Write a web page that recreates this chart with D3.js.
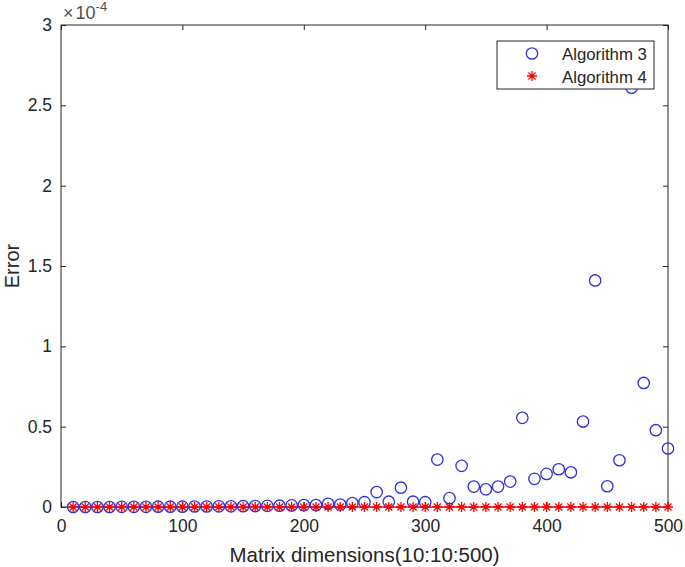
<!DOCTYPE html>
<html>
<head>
<meta charset="utf-8">
<script src="https://cdn.jsdelivr.net/npm/d3@7"></script>
<style>
  body { margin: 0; background: #fff; }
  text { font-family: "Liberation Sans", Arial, sans-serif; }
</style>
</head>
<body>
<div id="chart"></div>
<script>
// matrix sizes 10:10:500
const dims = [10, 20, 30, 40, 50, 60, 70, 80, 90, 100, 110, 120, 130, 140, 150, 160, 170, 180, 190, 200,
  210, 220, 230, 240, 250, 260, 270, 280, 290, 300, 310, 320, 330, 340, 350, 360, 370, 380, 390, 400,
  410, 420, 430, 440, 450, 460, 470, 480, 490, 500];
// error, in units of 1e-5
const alg3 = [0, 0, 0, 0, 0.01, 0.01, 0.01, 0.02, 0.02, 0.02, 0.03, 0.03, 0.04, 0.04, 0.05, 0.06, 0.07, 0.08, 0.1, 0.12,
  0.12, 0.2, 0.15, 0.25, 0.3, 0.93, 0.33, 1.2, 0.33, 0.3, 2.95, 0.55, 2.56, 1.27, 1.1, 1.27, 1.58, 5.55, 1.75, 2.06,
  2.35, 2.16, 5.32, 14.1, 1.29, 2.91, 26.1, 7.72, 4.78, 3.64];
const alg4 = dims.map(() => 0);
const xTicks = [0, 100, 200, 300, 400, 500];
const yTicks = [0, 0.5, 1, 1.5, 2, 2.5, 3];
const seriesNames = ['Algorithm 3', 'Algorithm 4'];

const W = 685, H = 567;
const m = { left: 61, right: 17, top: 25, bottom: 60 };
const w = W - m.left - m.right, h = H - m.top - m.bottom;
const axisColor = '#262626';
const blue = '#3030d6', red = '#ff0000';

const svg = d3.select('#chart').append('svg').attr('width', W).attr('height', H)
  .append('g').attr('transform', `translate(${m.left},${m.top})`);

const x = d3.scaleLinear().domain([0, 500]).range([0, w]);
const y = d3.scaleLinear().domain([0, 3]).range([h, 0]);   // axis in 1e-4
const yv = v => y(v / 10);                                  // data in 1e-5

// box
svg.append('rect').attr('width', w).attr('height', h)
  .attr('fill', 'none').attr('stroke', axisColor).attr('stroke-width', 1);

// ticks (inward, mirrored)
svg.append('g').attr('transform', `translate(0,${h})`)
  .call(d3.axisBottom(x).tickValues(xTicks).tickSizeInner(-5).tickSizeOuter(0).tickPadding(13))
  .call(s => s.select('.domain').remove())
  .call(s => s.selectAll('.tick line').attr('stroke', axisColor))
  .call(s => s.selectAll('.tick text').attr('fill', axisColor).style('font-size', '17.5px'));
svg.append('g')
  .call(d3.axisTop(x).tickValues(xTicks).tickSizeInner(-5).tickSizeOuter(0).tickFormat(''))
  .call(s => s.select('.domain').remove())
  .call(s => s.selectAll('.tick line').attr('stroke', axisColor));
svg.append('g')
  .call(d3.axisLeft(y).tickValues(yTicks).tickSizeInner(-5).tickSizeOuter(0).tickPadding(9).tickFormat(d3.format('')))
  .call(s => s.select('.domain').remove())
  .call(s => s.selectAll('.tick line').attr('stroke', axisColor))
  .call(s => s.selectAll('.tick text').attr('fill', axisColor).style('font-size', '17.5px'));
svg.append('g').attr('transform', `translate(${w},0)`)
  .call(d3.axisRight(y).tickValues(yTicks).tickSizeInner(-5).tickSizeOuter(0).tickFormat(''))
  .call(s => s.select('.domain').remove())
  .call(s => s.selectAll('.tick line').attr('stroke', axisColor));

// exponent
const ex = svg.append('text').attr('x', 2).attr('y', -6).attr('fill', '#505050').style('font-size', '18px');
ex.append('tspan').text('\u00d7');
ex.append('tspan').attr('dx', 2).text('10');
ex.append('tspan').attr('dy', -8).style('font-size', '13px').text('-4');

// axis labels
svg.append('text').attr('x', w / 2).attr('y', h + 55).attr('text-anchor', 'middle')
  .attr('fill', axisColor).style('font-size', '20.5px').text('Matrix dimensions(10:10:500)');
svg.append('text').attr('transform', `translate(-42,${h / 2}) rotate(-90)`).attr('text-anchor', 'middle')
  .attr('fill', axisColor).style('font-size', '20px').text('Error');

const starPath = r => {
  let p = '';
  for (let k = 0; k < 4; k++) {
    const a = k * Math.PI / 4;
    const dx = r * Math.cos(a), dy = r * Math.sin(a);
    p += `M${-dx},${-dy}L${dx},${dy}`;
  }
  return p;
};

// faint baseline through Algorithm 4
svg.append('line').attr('x1', x(dims[0])).attr('x2', x(dims[dims.length - 1]))
  .attr('y1', yv(0)).attr('y2', yv(0)).attr('stroke', red).attr('stroke-width', 1).attr('opacity', 0.7);

svg.selectAll('.a3').data(dims).join('circle').attr('class', 'a3')
  .attr('cx', d => x(d)).attr('cy', (d, i) => yv(alg3[i])).attr('r', 5.7)
  .attr('fill', 'none').attr('stroke', blue).attr('stroke-width', 1.3);

svg.selectAll('.a4').data(dims).join('path').attr('class', 'a4')
  .attr('transform', (d, i) => `translate(${x(d)},${yv(alg4[i])})`)
  .attr('d', starPath(5)).attr('stroke', red).attr('stroke-width', 1.3).attr('fill', 'none');

// legend
const lg = svg.append('g').attr('transform', `translate(${497 - m.left},${41 - m.top})`);
lg.append('rect').attr('width', 157).attr('height', 48).attr('fill', '#fff')
  .attr('stroke', axisColor).attr('stroke-width', 1);
lg.append('circle').attr('cx', 35).attr('cy', 12.5).attr('r', 5.7)
  .attr('fill', 'none').attr('stroke', blue).attr('stroke-width', 1.3);
lg.append('path').attr('transform', 'translate(35,35)').attr('d', starPath(5))
  .attr('stroke', red).attr('stroke-width', 1.3);
lg.selectAll('.lt').data(seriesNames).join('text').attr('class', 'lt')
  .attr('x', 65).attr('y', (d, i) => 18.5 + i * 23)
  .attr('fill', axisColor).style('font-size', '16.8px').text(d => d);
</script>
</body>
</html>
